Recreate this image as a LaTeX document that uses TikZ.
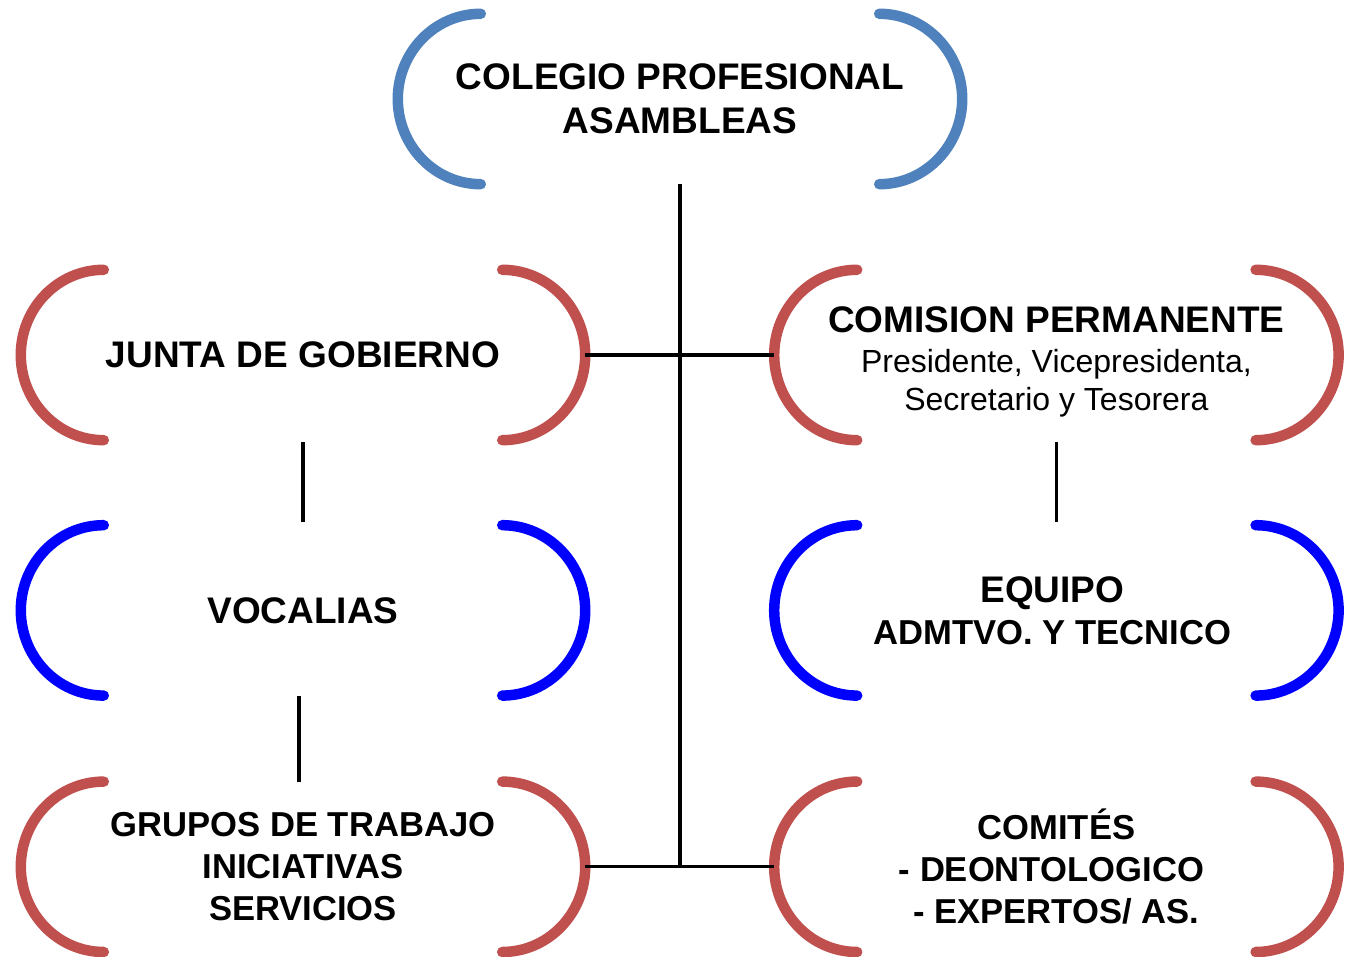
\documentclass[tikz,border=0pt]{standalone}
\usepackage{fontspec}
\setmainfont{Liberation Sans}
\usetikzlibrary{positioning}

\definecolor{steelblue}{HTML}{4F81BD}
\definecolor{brickred}{HTML}{C0504D}
\definecolor{pureblue}{HTML}{0000FF}

\tikzset{
  unit/.style={minimum width=564pt, minimum height=170pt, inner sep=0pt,
    align=center, font=\fontsize{37}{42}\selectfont\bfseries},
  small unit/.style={unit, font=\fontsize{34.6}{42}\selectfont\bfseries},
  bracket/.style={line width=10.5pt, line cap=round},
  link/.style={line width=3.3pt, draw=black}
}

% two round brackets around a node
\newcommand{\bracketpair}[2]{%
  \draw[bracket, draw=#2] ([xshift=83pt]#1.north west) to[out=180,in=90] (#1.west)
    to[out=-90,in=180] ([xshift=83pt]#1.south west);
  \draw[bracket, draw=#2] ([xshift=-83pt]#1.north east) to[out=0,in=90] (#1.east)
    to[out=-90,in=0] ([xshift=-83pt]#1.south east);
}

\begin{document}
\begin{tikzpicture}[x=1pt,y=1pt]
  \useasboundingbox (0,0) rectangle (1345,957);

  % Nodes
  \node[unit, font=\fontsize{37}{44}\selectfont\bfseries] (colegio) at (680,858)
    {COLEGIO PROFESIONAL\\ASAMBLEAS};

  \node[unit] (junta) at (303,602) {JUNTA DE GOBIERNO};
  \node[unit, right = 189pt of junta, font=\fontsize{32}{38}\selectfont, text height=118pt] (comision)
    {{\fontsize{37}{38}\selectfont\bfseries COMISION PERMANENTE}\\[2pt]
     Presidente, Vicepresidenta,\\Secretario y Tesorera};

  \node[unit, below = 85pt of junta] (vocalias) {VOCALIAS};
  \node[unit, below = 85pt of comision] (equipo)
    {EQUIPO\hspace*{8pt}\\{\fontsize{34.6}{42}\selectfont ADMTVO. Y TECNICO}\hspace*{8pt}};

  \node[small unit, below = 86pt of vocalias] (grupos) {GRUPOS DE TRABAJO\\INICIATIVAS\\SERVICIOS};
  \node[small unit, below = 86pt of equipo] (comites)
    {COMITÉS\\{- DEONTOLOGICO}\kern10pt\\- EXPERTOS/ AS.};

  % Brackets
  \bracketpair{colegio}{steelblue}
  \bracketpair{junta}{brickred}
  \bracketpair{comision}{brickred}
  \bracketpair{vocalias}{pureblue}
  \bracketpair{equipo}{pureblue}
  \bracketpair{grupos}{brickred}
  \bracketpair{comites}{brickred}

  % Edges
  \draw[link] (colegio.south) -- (colegio.south |- grupos.east);
  \draw[link] (junta.east) -- (comision.west);
  \draw[link] (grupos.east) -- (comites.west);

  \draw[link] ([yshift=-2pt]junta.south) -- ([yshift=3pt]vocalias.north);
  \draw[link] ([xshift=-4pt]vocalias.south) -- ([xshift=-4pt]grupos.north);
  \draw[link] ([yshift=-2pt]comision.south) -- ([yshift=3pt]equipo.north);
\end{tikzpicture}
\end{document}
